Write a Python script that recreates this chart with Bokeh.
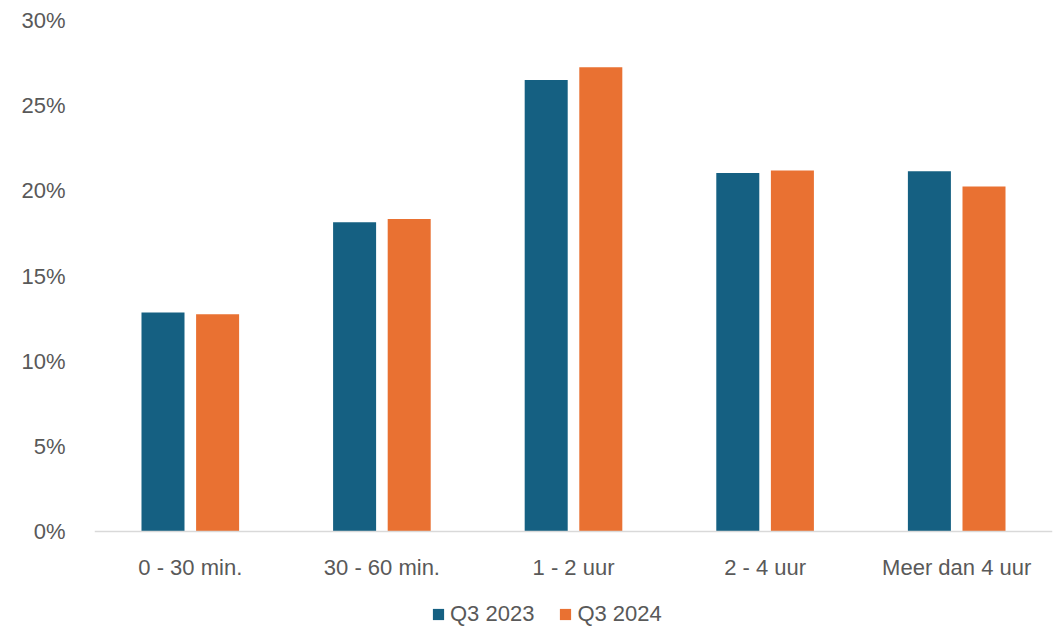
from bokeh.plotting import figure
from bokeh.models import ColumnDataSource, FactorRange, Range1d, FixedTicker, PrintfTickFormatter, Legend, LegendItem
from bokeh.transform import dodge
from bokeh.embed import file_html
from bokeh.resources import INLINE

categories = ["0 - 30 min.", "30 - 60 min.", "1 - 2 uur", "2 - 4 uur", "Meer dan 4 uur"]
q3_2023 = [12.85, 18.15, 26.5, 21.05, 21.15]
q3_2024 = [12.75, 18.35, 27.25, 21.2, 20.25]
y_ticks = [0, 5, 10, 15, 20, 25, 30]

FONT = "Liberation Sans"
TXT = "#595959"
src = ColumnDataSource(dict(cat=categories, a=q3_2023, b=q3_2024))

# frame runs to the bottom of the canvas; value 0 sits 96px above it (room for labels + legend)
FRAME_TOP, ZERO_PX, H = 20, 531, 627
y_min = -30 * (H - ZERO_PX) / (ZERO_PX - FRAME_TOP)

p = figure(x_range=FactorRange(*categories), y_range=Range1d(y_min, 30),
           width=1063, height=H, output_backend="svg", toolbar_location=None,
           min_border_left=94, min_border_right=11, min_border_top=FRAME_TOP, min_border_bottom=0)
p.outline_line_color = None
p.xgrid.grid_line_color = None
p.ygrid.grid_line_color = None
p.x_range.range_padding = 0

r1 = p.vbar(x=dodge("cat", -0.1425, range=p.x_range), top="a", width=0.2245, source=src,
            fill_color="#156082", line_color=None)
r2 = p.vbar(x=dodge("cat", 0.1425, range=p.x_range), top="b", width=0.2245, source=src,
            fill_color="#E97132", line_color=None)

p.yaxis.ticker = FixedTicker(ticks=y_ticks)
p.yaxis.formatter = PrintfTickFormatter(format="%d%%")
p.yaxis.axis_line_color = None
p.yaxis.major_tick_line_color = None
p.yaxis.minor_tick_line_color = None
p.yaxis.major_label_standoff = 23
p.yaxis.major_label_text_font = FONT
p.yaxis.major_label_text_font_size = "22px"
p.yaxis.major_label_text_color = TXT

p.xaxis.fixed_location = 0
p.xaxis.axis_line_color = "#D9D9D9"
p.xaxis.axis_line_width = 1.5
p.xaxis.major_tick_line_color = None
p.xaxis.minor_tick_line_color = None
p.xaxis.major_label_standoff = 17
p.xaxis.major_label_text_font = FONT
p.xaxis.major_label_text_font_size = "22px"
p.xaxis.major_label_text_color = TXT

legend = Legend(items=[LegendItem(label="Q3 2023", renderers=[r1]),
                       LegendItem(label="Q3 2024", renderers=[r2])],
                orientation="horizontal", location=(337, 0),
                label_text_font=FONT, label_text_font_size="22px", label_text_color=TXT,
                glyph_width=14, glyph_height=14, label_standoff=5, spacing=24,
                background_fill_alpha=0, border_line_color=None, padding=0, margin=0)
p.add_layout(legend, "center")

open("out.html", "w").write(file_html(p, INLINE))
